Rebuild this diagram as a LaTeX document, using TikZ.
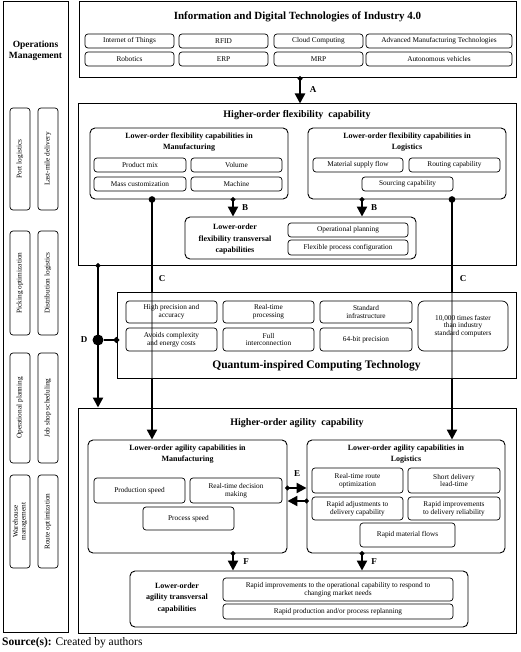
\documentclass[tikz,border=0pt]{standalone}
\usepackage{fontspec}
\setmainfont{Liberation Serif}
\usetikzlibrary{arrows.meta,calc}
\tikzset{
  sz/.style 2 args = {minimum width=#1pt, minimum height=#2pt},
  frame/.style = {rectangle, draw, line width=1pt, inner sep=0pt},
  grp/.style   = {rectangle, draw, rounded corners=5pt, line width=0.9pt, inner sep=0pt},
  item/.style  = {rectangle, draw, rounded corners=3pt, line width=0.7pt, inner sep=0pt,
                  align=center, font=\fontsize{7.3}{7.6}\selectfont},
  vitem/.style = {item, rotate=90, minimum height=20pt},
  ttl/.style   = {font=\bfseries\fontsize{10}{12}\selectfont},
  sttl/.style  = {align=center, font=\bfseries\fontsize{8}{11.5}\selectfont},
  lab/.style   = {font=\bfseries\fontsize{9}{10}\selectfont},
  arr/.style   = {{Circle[length=4.5pt]}-{Triangle[length=10pt,width=10pt]}, line width=2.2pt, shorten <=-2.2pt},
  carr/.style  = {{Circle[length=6.5pt]}-{Triangle[length=10pt,width=10pt]}, line width=2.2pt, shorten <=-3.2pt},
  dotn/.style  = {circle, fill, inner sep=0pt, minimum size=11pt}
}
\begin{document}
\begin{tikzpicture}[x=1pt, y=-1pt]
\useasboundingbox (0,0) rectangle (520,652);

% --- Operations Management -----------------------------------------
\node[frame, sz={65}{630}] (opm) at (35.5,317) {};
\node[align=center, font=\bfseries\fontsize{9.5}{11}\selectfont] (opmttl) at (35.5,51) {Operations\\Management};
\node[vitem, minimum width=102pt] (pl)  at (20,159)   {Port logistics};
\node[vitem, minimum width=102pt] (lmd) at (48,159)   {Last-mile delivery};
\node[vitem, minimum width=104pt] (po)  at (20,283)   {Picking optimization};
\node[vitem, minimum width=104pt] (dl)  at (48,283)   {Distribution logistics};
\node[vitem, minimum width=110pt] (op)  at (20,408)   {Operational planning};
\node[vitem, minimum width=110pt] (jss) at (48,408)   {Job shop scheduling};
\node[vitem, minimum width=93pt]  (wm)  at (20,521.5) {Warehouse\\management};
\node[vitem, minimum width=93pt]  (ro)  at (48,521.5) {Route optimization};

% --- Industry 4.0 --------------------------------------------------
\node[frame, sz={437}{76}] (ind) at (297.5,40) {};
\node[ttl, font=\bfseries\fontsize{11}{12}\selectfont] (indttl) at (297.5,17) {Information and Digital Technologies of Industry 4.0};
\node[item, sz={89}{14}]  (iot)  at (129.5,41) {Internet of Things};
\node[item, sz={89}{14}]  (rfid) at (223.5,41) {RFID};
\node[item, sz={89}{14}]  (cc)   at (318.5,41) {Cloud Computing};
\node[item, sz={146}{14}] (amt)  at (439,41)   {Advanced Manufacturing Technologies};
\node[item, sz={89}{14}]  (rob)  at (129.5,59) {Robotics};
\node[item, sz={89}{14}]  (erp)  at (223.5,59) {ERP};
\node[item, sz={89}{14}]  (mrp)  at (318.5,59) {MRP};
\node[item, sz={146}{14}] (av)   at (439,59)   {Autonomous vehicles};

% --- Flexibility ---------------------------------------------------
\node[frame, sz={438}{161}] (flex) at (297,184.5) {};
\node[ttl] (flexttl) at (297,115) {Higher-order flexibility\ \ capability};
\node[grp, sz={198}{71}] (fman) at (189,163.5) {};
\node[sttl] (fmanttl) at (189,142) {Lower-order flexibility capabilities in\\Manufacturing};
\node[item, sz={92}{14}] (pm)   at (140,165)   {Product mix};
\node[item, sz={91}{14}] (vol)  at (236.5,165) {Volume};
\node[item, sz={92}{14}] (mc)   at (140,184)   {Mass customization};
\node[item, sz={91}{14}] (mach) at (236.5,184) {Machine};
\node[grp, sz={198}{71}] (flog) at (407,163.5) {};
\node[sttl] (flogttl) at (407,142) {Lower-order flexibility capabilities in\\Logistics};
\node[item, sz={90}{14}] (msf) at (358,165)   {Material supply flow};
\node[item, sz={91}{14}] (rc)  at (454.5,165) {Routing capability};
\node[item, sz={91}{14}] (sc)  at (407.5,184) {Sourcing capability};
\node[grp, sz={231}{42}] (ftr) at (300.5,238) {};
\node[sttl] (ftrttl) at (235,239.5) {Lower-order\\flexibility transversal\\capabilities};
\node[item, sz={120}{14}] (opl) at (348,230)   {Operational planning};
\node[item, sz={120}{15}] (fpc) at (348,247.5) {Flexible process configuration};

% --- Agility -------------------------------------------------------
\node[frame, sz={438}{225}] (agil) at (297,520.5) {};
\node[ttl] (agilttl) at (297,423) {Higher-order agility\ \ capability};
\node[grp, sz={199}{113}] (aman) at (187.5,496.5) {};
\node[sttl] (amanttl) at (187.5,454) {Lower-order agility capabilities in\\Manufacturing};
\node[item, sz={91}{25}] (ps)  at (139.5,490.5) {Production speed};
\node[item, sz={92}{25}] (rtd) at (236,490.5)   {Real-time decision\\making};
\node[item, sz={91}{23}] (psp) at (188.5,518.5) {Process speed};
\node[grp, sz={198}{113}] (alog) at (406,496.5) {};
\node[sttl] (alogttl) at (406,454) {Lower-order agility capabilities in\\Logistics};
\node[item, sz={91}{25}] (rro) at (357.5,480.5) {Real-time route\\optimization};
\node[item, sz={92}{25}] (sdl) at (454,480.5)   {Short delivery\\lead-time};
\node[item, sz={91}{23}] (rad) at (357.5,508.5) {Rapid adjustments to\\delivery capability};
\node[item, sz={92}{23}] (rid) at (454,508.5)   {Rapid improvements\\to delivery reliability};
\node[item, sz={95}{24}] (rmf) at (407.5,535)   {Rapid material flows};
\node[grp, sz={338}{56}] (atr) at (299,599) {};
\node[sttl] (atrttl) at (177,598) {Lower-order\\agility transversal\\capabilities};
\node[item, sz={230}{23}] (rio) at (338,589.5) {Rapid improvements to the operational capability to respond to\\changing market needs};
\node[item, sz={230}{15}] (rpp) at (338,611.5) {Rapid production and/or process replanning};

% --- Verbindungen A, B, C ------------------------------------------
\draw[arr] (ind.south -| 300,0) -- (flex.north -| 300,0);
\node[lab] (la) at (313,90) {A};
\draw[arr] (fman.south -| 233,0) -- (ftr.north -| 233,0);
\draw[arr] (flog.south -| 362,0) -- (ftr.north -| 362,0);
\node[lab] (lb1) at (245,208) {B};
\node[lab] (lb2) at (374,208) {B};
\draw[carr] (fman.south -| 152,0) -- (aman.north -| 152,0);
\draw[carr] (flog.south -| 452,0) -- (alog.north -| 452,0);
\node[lab] (lc1) at (162,279) {C};
\node[lab] (lc2) at (463,279) {C};

% --- Quantum -------------------------------------------------------
\node[frame, sz={399}{86}, fill=white, fill opacity=0.6] (quant) at (316.5,335) {};
\node[item, sz={91}{22}] (hpa)  at (171.5,312)   {High precision and\\accuracy};
\node[item, sz={91}{22}] (rtp)  at (268.5,312)   {Real-time\\processing};
\node[item, sz={92}{22}] (si)   at (366,312)     {Standard\\infrastructure};
\node[item, sz={91}{23}] (ace)  at (171.5,339.5) {Avoids complexity\\and energy costs};
\node[item, sz={91}{23}] (fi)   at (268.5,339.5) {Full\\interconnection};
\node[item, sz={92}{23}] (bit)  at (366,339.5)   {64-bit precision};
\node[item, sz={90}{50}, rounded corners=6pt] (fast) at (463,326) {10,000 times faster\\than industry\\standard computers};
\node[ttl, font=\bfseries\fontsize{11.5}{12}\selectfont] (quantttl) at (316.5,366) {Quantum-inspired Computing Technology};

% --- Verbindungen D, E, F ------------------------------------------
\node[dotn] (dj) at (98,340) {};
\draw[arr] (flex.south -| dj) -- (agil.north -| dj);
\draw[line width=2.2pt, -{Circle[length=5.5pt]}, shorten >=-2.7pt] (dj) -- (quant.west |- dj);
\node[lab] (ld) at (84,340) {D};
\draw[arr] (aman.east |- 0,488) -- (alog.west |- 0,488);
\draw[arr] (alog.west |- 0,501) -- (aman.east |- 0,501);
\node[lab] (le) at (297,474) {E};
\draw[arr] (aman.south -| 233,0) -- (atr.north -| 233,0);
\draw[arr] (alog.south -| 362,0) -- (atr.north -| 362,0);
\node[lab] (lf1) at (246,562) {F};
\node[lab] (lf2) at (374,562) {F};

% --- Quelle --------------------------------------------------------
\node[anchor=west, inner sep=0pt, font=\fontsize{11.5}{12}\selectfont] (src) at (2,643) {\textbf{Source(s):} Created by authors};
\end{tikzpicture}
\end{document}
